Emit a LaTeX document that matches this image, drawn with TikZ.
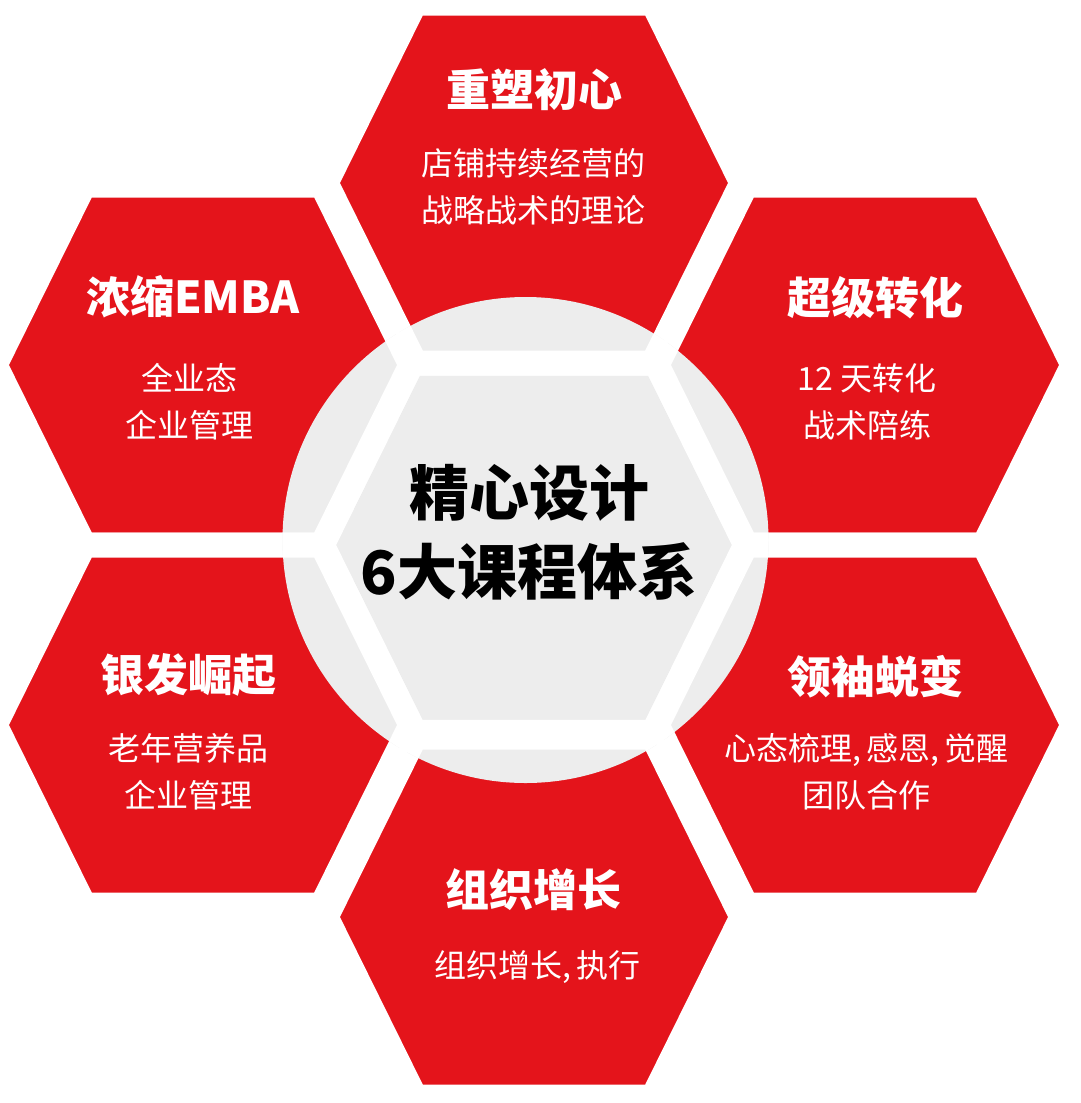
\documentclass[tikz,border=0pt]{standalone}
\usepackage{fontspec}
\setmainfont{Noto Sans CJK SC}
\usepackage{xcolor}
\usepackage{tikz}

\definecolor{hexred}{RGB}{228,20,27}
\definecolor{hexgray}{RGB}{237,237,237}

% one cell of the honeycomb, around a centre
\newcommand{\hexcell}[1]{(#1) ++(-208,0) -- ++(89,-180) -- ++(238,0) -- ++(89,180) -- ++(-89,180) -- ++(-238,0) -- cycle}
% comma with a little air after it
\newcommand{\cm}{,\hspace{5pt}}

\begin{document}
\begin{tikzpicture}[
  x=1pt, y=-1pt,
  cellred/.style={fill=hexred, draw=white, line width=25pt},
  cellgray/.style={fill=hexgray, draw=white, line width=25pt},
  ttl/.style={text=white, inner sep=0pt, font=\bfseries\fontsize{44}{48}\selectfont},
  dsc/.style={text=white, inner sep=0pt, align=center, font=\fontsize{32}{47}\selectfont},
  hub/.style={text=black, inner sep=0pt, align=center, font=\bfseries\fontsize{60}{79}\selectfont}
]
\useasboundingbox (0,0) rectangle (1080,1103);

% cell centres
\coordinate (hx-mid) at (534,546);
\coordinate (hx-top) at (534,183);
\coordinate (hx-ul) at (203,365);
\coordinate (hx-ur) at (865,365);
\coordinate (hx-ll) at (203,725);
\coordinate (hx-lr) at (865,725);
\coordinate (hx-bot) at (534,917);

% central cell, a little larger
\begin{scope}[shift={(hx-mid)}, scale=1.035]
  \filldraw[cellgray] \hexcell{0,0};
\end{scope}

\filldraw[cellred] \hexcell{hx-top};
\filldraw[cellred] \hexcell{hx-ul};
\filldraw[cellred] \hexcell{hx-ur};
\filldraw[cellred] \hexcell{hx-ll};
\filldraw[cellred] \hexcell{hx-lr};
\filldraw[cellred] \hexcell{hx-bot};

% grey disc behind the inner corners
\begin{scope}
  \clip (525.5,540) circle[radius=243];
  \filldraw[cellgray] \hexcell{hx-top};
  \filldraw[cellgray] \hexcell{hx-ul};
  \filldraw[cellgray] \hexcell{hx-ur};
  \filldraw[cellgray] \hexcell{hx-ll};
  \filldraw[cellgray] \hexcell{hx-lr};
  \filldraw[cellgray] \hexcell{hx-bot};
\end{scope}

\node[hub] (hub) at (529,532.5) {精心设计\\6大课程体系};

\node[ttl] (ttl-top) at (534,90) {重塑初心};
\node[dsc] (dsc-top) at (533,186.5) {店铺持续经营的\\战略战术的理论};

\node[ttl] (ttl-ul) at (193,297) {浓缩EMBA};
\node[dsc] (dsc-ul) at (189,401.5) {全业态\\企业管理};

\node[ttl] (ttl-ur) at (875,298) {超级转化};
\node[dsc] (dsc-ur) at (867,401.5) {12 天转化\\战术陪练};

\node[ttl] (ttl-ll) at (188,675) {银发崛起};
\node[dsc] (dsc-ll) at (188.5,771.5) {老年营养品\\企业管理};

\node[ttl] (ttl-lr) at (875,677) {领袖蜕变};
\node[dsc] (dsc-lr) at (866.5,771.5) {心态梳理\cm 感恩\cm 觉醒\\团队合作};

\node[ttl] (ttl-bot) at (533,890) {组织增长};
\node[dsc] (dsc-bot) at (537.5,967) {组织增长\cm 执行};

\end{tikzpicture}
\end{document}
